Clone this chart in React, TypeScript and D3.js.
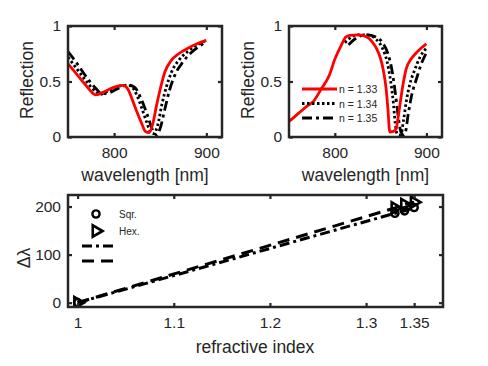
import * as d3 from "d3";
import { useEffect, useRef } from "react";

// top-left panel, reflection spectra
const tlWl133 = [750, 760, 770, 780, 790, 800, 810, 815, 820, 825, 830, 834, 838, 842, 846, 850, 855, 862, 870, 880, 890, 900];
const tlR133 = [0.66, 0.56, 0.46, 0.38, 0.41, 0.45, 0.465, 0.43, 0.33, 0.22, 0.12, 0.05, 0.04, 0.12, 0.285, 0.43, 0.585, 0.69, 0.75, 0.8, 0.84, 0.87];
const tlWl134 = [750, 760, 770, 780, 785, 790, 800, 810, 818, 825, 830, 835, 840, 843, 847, 852, 857, 862, 870, 880, 890, 900];
const tlR134 = [0.72, 0.61, 0.5, 0.41, 0.385, 0.4, 0.44, 0.465, 0.46, 0.37, 0.26, 0.14, 0.04, 0.03, 0.1, 0.3, 0.46, 0.58, 0.69, 0.77, 0.83, 0.87];
const tlWl135 = [750, 760, 770, 780, 787, 795, 805, 815, 822, 830, 836, 842, 846, 850, 855, 860, 866, 875, 885, 893, 900];
const tlR135 = [0.77, 0.66, 0.54, 0.44, 0.39, 0.4, 0.44, 0.47, 0.45, 0.33, 0.2, 0.06, 0.02, 0.08, 0.25, 0.42, 0.56, 0.68, 0.77, 0.82, 0.86];

// top-right panel
const trWl133 = [750, 760, 770, 776, 785, 794, 800, 807, 812, 816, 826, 835, 841, 846, 850, 853, 856, 858, 860, 864, 867, 869, 871, 874, 878, 883, 888, 894, 900];
const trR133 = [0.14, 0.21, 0.28, 0.315, 0.43, 0.556, 0.7, 0.826, 0.9, 0.916, 0.92, 0.9, 0.855, 0.79, 0.705, 0.6, 0.435, 0.25, 0.045, 0.05, 0.075, 0.17, 0.285, 0.45, 0.615, 0.7, 0.75, 0.8, 0.84];
const trWl134 = [811, 818, 825, 835, 845, 852, 857, 861, 864, 866, 868, 872, 875, 878, 882, 887, 893, 900];
const trR134 = [0.85, 0.9, 0.92, 0.92, 0.88, 0.8, 0.68, 0.5, 0.3, 0.12, 0.03, 0.02, 0.15, 0.32, 0.48, 0.6, 0.72, 0.8];
const trWl135 = [815, 820, 825, 835, 845, 852, 858, 862, 866, 869, 872, 875, 877, 880, 884, 889, 894, 900];
const trR135 = [0.83, 0.87, 0.9, 0.92, 0.9, 0.85, 0.75, 0.62, 0.4, 0.2, 0.05, 0.02, 0.04, 0.2, 0.38, 0.52, 0.65, 0.76];

const seriesLabels = ["n = 1.33", "n = 1.34", "n = 1.35"];

// bottom panel, wavelength shift vs refractive index
const refIndex = [1, 1.33, 1.34, 1.35];
const shiftSqr = [0, 186, 191, 198];
const shiftHex = [0, 197, 204, 209];

const waveTicks = [800, 900];
const reflTicks = [0, 0.5, 1];
const nTicks = [1, 1.1, 1.2, 1.3, 1.35];
const shiftTicks = [0, 100, 200];

const FONT = "'Liberation Sans', Arial, sans-serif";
const INK = "#262626";
const RED = "#ff0000";
const DOT = "2.5,2.5";
const DASHDOT = "10,4,3,4";
const DASH = "12,7";

function frame(g, x, y, xTicks, yTicks, xFmt, yFmt) {
  const [x0, x1] = x.range();
  const [y0, y1] = y.range();
  const tick = 4;
  const axB = d3.axisBottom(x).tickValues(xTicks).tickSizeInner(-tick).tickSizeOuter(0).tickPadding(10).tickFormat(xFmt);
  const axT = d3.axisTop(x).tickValues(xTicks).tickSizeInner(-tick).tickSizeOuter(0).tickFormat(() => "");
  const axL = d3.axisLeft(y).tickValues(yTicks).tickSizeInner(-tick).tickSizeOuter(0).tickPadding(7).tickFormat(yFmt);
  const axR = d3.axisRight(y).tickValues(yTicks).tickSizeInner(-tick).tickSizeOuter(0).tickFormat(() => "");
  const put = (ax, tr) => {
    const a = g.append("g").attr("transform", tr).call(ax);
    a.select(".domain").remove();
    a.selectAll("line").attr("stroke", INK).attr("stroke-width", 2.2);
    a.selectAll("text").attr("fill", INK).style("font-family", FONT).style("font-size", "15.5px");
  };
  put(axB, `translate(0,${y0})`);
  put(axT, `translate(0,${y1})`);
  put(axL, `translate(${x0},0)`);
  put(axR, `translate(${x1},0)`);
  g.append("rect")
    .attr("x", x0).attr("y", y1)
    .attr("width", x1 - x0).attr("height", y0 - y1)
    .attr("fill", "none").attr("stroke", INK).attr("stroke-width", 2.5);
}

function label(g, text, x, y, rot = 0) {
  g.append("text")
    .attr("transform", `translate(${x},${y}) rotate(${rot})`)
    .attr("text-anchor", "middle")
    .attr("dominant-baseline", "central")
    .attr("fill", INK)
    .style("font-family", FONT)
    .style("font-size", "17.5px")
    .text(text);
}

const App = () => {
  const ref = useRef(null);

  useEffect(() => {
    const svg = d3.select(ref.current);
    svg.selectAll("*").remove();

    const panels = [
      { left: 68, right: 222, data: [[tlWl133, tlR133], [tlWl134, tlR134], [tlWl135, tlR135]], id: "tl" },
      { left: 289, right: 442, data: [[trWl133, trR133], [trWl134, trR134], [trWl135, trR135]], id: "tr" },
    ];
    const styles = [
      { stroke: RED, dash: null },
      { stroke: "#000", dash: DOT },
      { stroke: "#000", dash: DASHDOT },
    ];

    panels.forEach((p) => {
      const x = d3.scaleLinear().domain([750, 917]).range([p.left, p.right]);
      const y = d3.scaleLinear().domain([0, 1]).range([137, 26]);
      const g = svg.append("g");
      g.append("clipPath").attr("id", "clip-" + p.id)
        .append("rect").attr("x", p.left).attr("y", 26).attr("width", p.right - p.left).attr("height", 111);
      const line = d3.line().x((d) => x(d[0])).y((d) => y(d[1])).curve(d3.curveMonotoneX);
      const curves = g.append("g").attr("clip-path", `url(#clip-${p.id})`);
      // black first, red on top
      [1, 2, 0].forEach((i) => {
        const [wl, r] = p.data[i];
        curves.append("path")
          .attr("d", line(wl.map((w, k) => [w, r[k]])))
          .attr("fill", "none")
          .attr("stroke", styles[i].stroke)
          .attr("stroke-width", 2.8)
          .attr("stroke-dasharray", styles[i].dash)
          .attr("stroke-linejoin", "round");
      });
      frame(g, x, y, waveTicks, reflTicks, d3.format("d"), (d) => String(d));
      label(g, "wavelength [nm]", (p.left + p.right) / 2, 175);
      label(g, "Reflection", p.left - 41, 80, -90);
    });

    // legend of the right panel
    const lg = svg.append("g");
    seriesLabels.forEach((s, i) => {
      const yy = 89 + i * 14.5;
      lg.append("line").attr("x1", 302).attr("x2", 337).attr("y1", yy).attr("y2", yy)
        .attr("stroke", styles[i].stroke).attr("stroke-width", 2.8)
        .attr("stroke-dasharray", styles[i].dash);
      lg.append("text").attr("x", 339).attr("y", yy).attr("dominant-baseline", "central")
        .attr("fill", INK).style("font-family", FONT).style("font-size", "10.5px").text(s);
    });

    // bottom panel
    const x = d3.scaleLinear().domain([0.99, 1.38]).range([68, 443]);
    const y = d3.scaleLinear().domain([-9, 224]).range([307, 195]);
    const g = svg.append("g");
    g.append("clipPath").attr("id", "clip-b")
      .append("rect").attr("x", 68).attr("y", 195).attr("width", 375).attr("height", 112);
    const pl = g.append("g").attr("clip-path", "url(#clip-b)");
    const line = d3.line().x((d) => x(d[0])).y((d) => y(d[1]));
    pl.append("path").attr("d", line(refIndex.map((n, i) => [n, shiftHex[i]])))
      .attr("fill", "none").attr("stroke", "#000").attr("stroke-width", 3).attr("stroke-dasharray", DASH);
    pl.append("path").attr("d", line(refIndex.map((n, i) => [n, shiftSqr[i]])))
      .attr("fill", "none").attr("stroke", "#000").attr("stroke-width", 3).attr("stroke-dasharray", DASHDOT);
    const tri = d3.symbol().type(d3.symbolTriangle).size(55);
    refIndex.forEach((n, i) => {
      pl.append("circle").attr("cx", x(n)).attr("cy", y(shiftSqr[i])).attr("r", 3.6)
        .attr("fill", "none").attr("stroke", "#000").attr("stroke-width", 2.4);
      pl.append("path").attr("d", tri())
        .attr("transform", `translate(${x(n)},${y(shiftHex[i])}) rotate(90)`)
        .attr("fill", "none").attr("stroke", "#000").attr("stroke-width", 2.6);
    });
    frame(g, x, y, nTicks, shiftTicks, (d) => String(d), (d) => String(d));
    label(g, "refractive index", 255, 347);
    label(g, "\u0394\u03bb", 24, 258, -90);

    // bottom legend
    const bl = svg.append("g");
    bl.append("circle").attr("cx", 96).attr("cy", 214).attr("r", 3.6)
      .attr("fill", "none").attr("stroke", "#000").attr("stroke-width", 2.4);
    bl.append("path").attr("d", tri()).attr("transform", "translate(96,231) rotate(90)")
      .attr("fill", "none").attr("stroke", "#000").attr("stroke-width", 2.6);
    [["Sqr.", 214], ["Hex.", 231]].forEach(([t, yy]) => {
      bl.append("text").attr("x", 119).attr("y", yy).attr("dominant-baseline", "central")
        .attr("fill", INK).style("font-family", FONT).style("font-size", "10px").text(t);
    });
    bl.append("line").attr("x1", 82).attr("x2", 117).attr("y1", 246).attr("y2", 246)
      .attr("stroke", "#000").attr("stroke-width", 3).attr("stroke-dasharray", DASHDOT);
    bl.append("line").attr("x1", 82).attr("x2", 115).attr("y1", 261).attr("y2", 261)
      .attr("stroke", "#000").attr("stroke-width", 3).attr("stroke-dasharray", DASH);
  }, []);

  return (
    <div style={{ position: "fixed", left: 0, top: 0 }}>
      <svg ref={ref} width={488} height={366} style={{ display: "block", background: "#fff" }} />
    </div>
  );
};

export default App;
